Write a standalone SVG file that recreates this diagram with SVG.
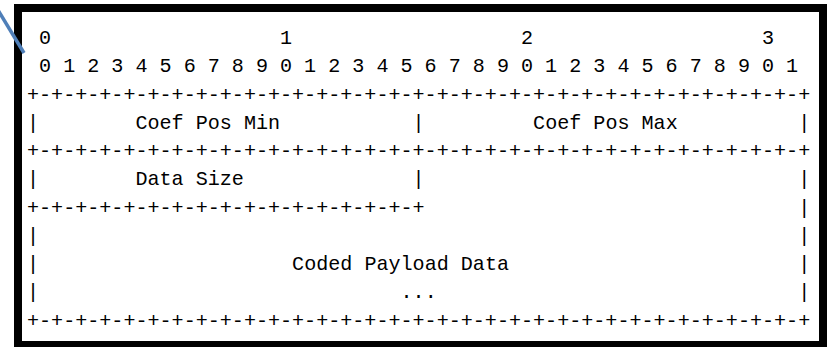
<svg xmlns="http://www.w3.org/2000/svg" width="834" height="347" viewBox="0 0 834 347">
<style>
  text { font-family: "Liberation Mono", "DejaVu Sans Mono", monospace; font-size: 20.08px; fill: #000; white-space: pre; }
</style>
<rect x="0" y="0" width="834" height="347" fill="#ffffff"/>
<g id="frame-border">
  <rect x="18" y="8" width="805" height="337" fill="#ffffff" stroke="#000000" stroke-width="8"/>
</g>
<g id="bit-ruler">
  <text x="27" y="44" xml:space="preserve"> 0                   1                   2                   3</text>
  <text x="27" y="72.25" xml:space="preserve"> 0 1 2 3 4 5 6 7 8 9 0 1 2 3 4 5 6 7 8 9 0 1 2 3 4 5 6 7 8 9 0 1</text>
</g>
<g id="frame-lines">
  <text x="27" y="100.5">+-+-+-+-+-+-+-+-+-+-+-+-+-+-+-+-+-+-+-+-+-+-+-+-+-+-+-+-+-+-+-+-+</text>
  <text x="27" y="128.75">|</text>
  <text x="412.6" y="128.75">|</text>
  <text x="798.2" y="128.75">|</text>
  <text x="27" y="157">+-+-+-+-+-+-+-+-+-+-+-+-+-+-+-+-+-+-+-+-+-+-+-+-+-+-+-+-+-+-+-+-+</text>
  <text x="27" y="185.25">|</text>
  <text x="412.6" y="185.25">|</text>
  <text x="798.2" y="185.25">|</text>
  <text x="27" y="213.5">+-+-+-+-+-+-+-+-+-+-+-+-+-+-+-+-+</text>
  <text x="798.2" y="213.5">|</text>
  <text x="27" y="241.75">|</text>
  <text x="798.2" y="241.75">|</text>
  <text x="27" y="270">|</text>
  <text x="798.2" y="270">|</text>
  <text x="27" y="298.25">|</text>
  <text x="798.2" y="298.25">|</text>
  <text x="27" y="326.5">+-+-+-+-+-+-+-+-+-+-+-+-+-+-+-+-+-+-+-+-+-+-+-+-+-+-+-+-+-+-+-+-+</text>
</g>
<g id="field-coef-pos-min">
  <text x="135.45" y="128.75">Coef Pos Min</text>
</g>
<g id="field-coef-pos-max">
  <text x="533.1" y="128.75">Coef Pos Max</text>
</g>
<g id="field-data-size">
  <text x="135.45" y="185.25">Data Size</text>
</g>
<g id="field-coded-payload-data">
  <text x="292.1" y="270">Coded Payload Data</text>
  <text x="400.55" y="298.25">...</text>
</g>
<g id="connectors">
  <line x1="-2" y1="10" x2="24" y2="53" stroke="#4f7fb8" stroke-width="3.5"/>
</g>
</svg>
